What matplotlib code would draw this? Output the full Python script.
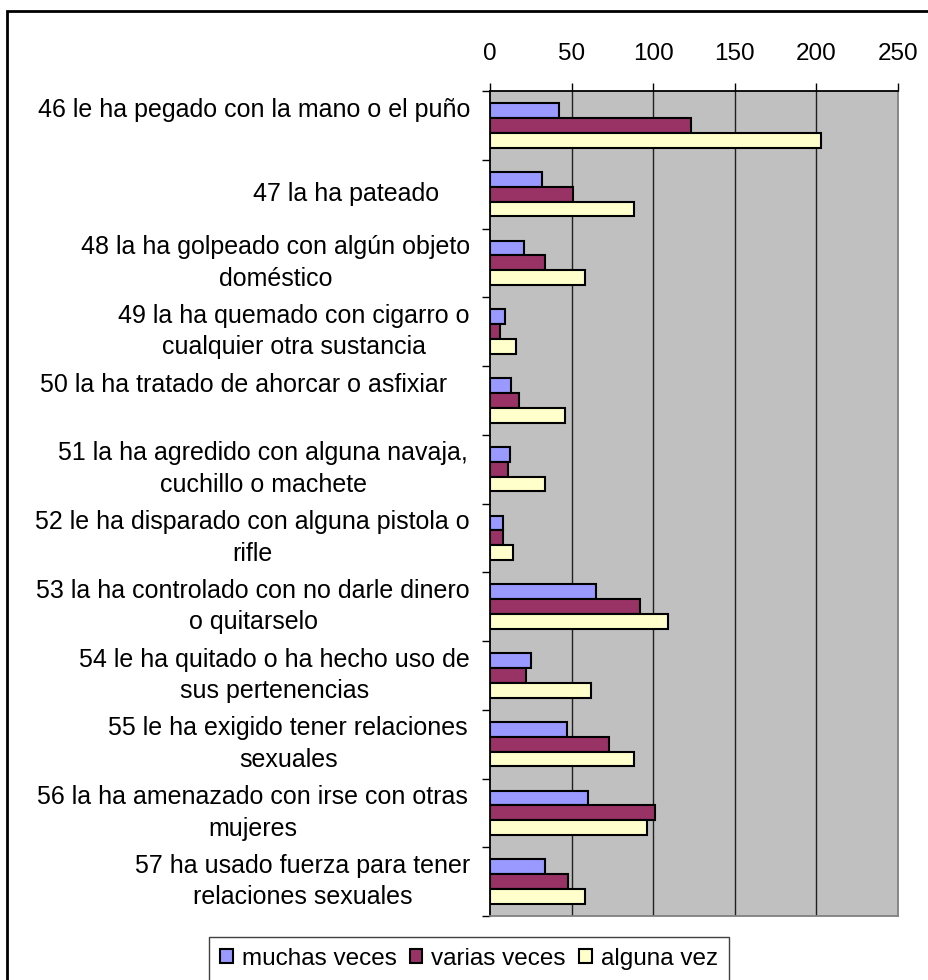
import numpy as np
import matplotlib
matplotlib.use('Agg')
import matplotlib.pyplot as plt
from matplotlib.patches import Rectangle

plt.rcParams['font.family'] = ['Liberation Sans', 'DejaVu Sans']

# categorias (de arriba hacia abajo)
categorias = [
    '46 le ha pegado con la mano o el puño\n',
    '47 la ha pateado',
    '48 la ha golpeado con algún objeto\ndoméstico',
    '49 la ha quemado con cigarro o\ncualquier otra sustancia',
    '50 la ha tratado de ahorcar o asfixiar\n',
    '51 la ha agredido con alguna navaja,\ncuchillo o machete',
    '52 le ha disparado con alguna pistola o\nrifle',
    '53 la ha controlado con no darle dinero\no quitarselo',
    '54 le ha quitado o ha hecho uso de\nsus pertenencias',
    '55 le ha exigido tener relaciones\nsexuales',
    '56 la ha amenazado con irse con otras\nmujeres',
    '57 ha usado fuerza para tener\nrelaciones sexuales',
]
# valores
muchas_veces = [42, 32, 21, 9, 13, 12, 8, 65, 25, 47, 60, 34]
varias_veces = [123, 51, 34, 6, 18, 11, 8, 92, 22, 73, 101, 48]
alguna_vez = [203, 88, 58, 16, 46, 34, 14, 109, 62, 88, 96, 58]
series_nombres = ['muchas veces', 'varias veces', 'alguna vez']
xticks_vals = [0, 50, 100, 150, 200, 250]

# desplazamiento extra de algunas etiquetas (px)
label_offsets = [20, 51, 20, 20, 43, 22, 20, 20, 20, 22, 22, 20]

colores = ['#9999FF', '#993366', '#FFFFCC']

fig = plt.figure(figsize=(9.29, 9.8), dpi=100)
W, H = 929, 980
ax = fig.add_axes([490 / W, 1 - 916 / H, (898 - 490) / W, (916 - 91) / H])
ax.set_facecolor('#C0C0C0')

y = np.arange(len(categorias))
h = 0.216
for k, (vals, col, nom) in enumerate(zip([muchas_veces, varias_veces, alguna_vez], colores, series_nombres)):
    ax.barh(y + (k - 1) * h, vals, height=h, color=col, edgecolor='black',
            linewidth=1.5, label=nom, zorder=3)

ax.set_xlim(0, 250)
ax.set_ylim(len(categorias) - 0.5, -0.5)
ax.xaxis.tick_top()
ax.set_xticks(xticks_vals)
ax.tick_params(axis='x', direction='out', length=6, width=1, pad=13,
               labelsize=17.5, colors='black')
ax.set_yticks(np.arange(len(categorias) + 1) - 0.5)
ax.set_yticklabels([])
ax.tick_params(axis='y', direction='out', length=6, width=1)
for xv in xticks_vals[1:-1]:
    ax.axvline(xv, color='#202020', linewidth=1, zorder=1)

ax.spines['left'].set_color('black')
ax.spines['top'].set_color('black')
ax.spines['right'].set_color('#808080')
ax.spines['bottom'].set_color('#808080')
for s in ax.spines.values():
    s.set_linewidth(1.3)

for i, (lab, off) in enumerate(zip(categorias, label_offsets)):
    ax.annotate(lab, xy=(0, i), xycoords=('axes fraction', 'data'),
                xytext=(-off * 0.72, 0), textcoords='offset points',
                ha='right', va='center', multialignment='center',
                fontsize=18, linespacing=1.4)

fig.legend(loc='upper left', bbox_to_anchor=(209 / W, 1 - 937 / H), ncol=3,
           fontsize=17.5, frameon=True, fancybox=False, edgecolor='#404040',
           framealpha=1, borderaxespad=0, handlelength=0.53, handleheight=0.53,
           handletextpad=0.37, columnspacing=0.53, borderpad=0.45)

# borde exterior
fig.patches.append(Rectangle((7 / W, -0.1), 1.2, 1 - 11 / H + 0.1,
                             transform=fig.transFigure, fill=False,
                             edgecolor='black', linewidth=2))

fig.savefig('out.png', dpi=100)
